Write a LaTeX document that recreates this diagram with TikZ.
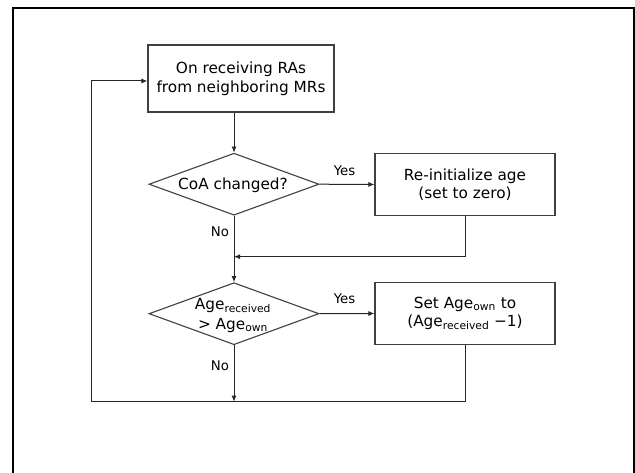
\documentclass[tikz,border=0pt]{standalone}
\usepackage{fontspec}
\setmainfont{DejaVu Sans}
\usetikzlibrary{shapes.geometric,arrows.meta}
\begin{document}
\begin{tikzpicture}[x=1pt,y=-1pt,
  boxnode/.style={draw=black!75,line width=1.1pt,rectangle,align=center,inner sep=0pt,
     font=\fontsize{15.3}{18.6}\selectfont},
  decnode/.style={draw=black!75,line width=1.1pt,diamond,inner sep=0pt,
     minimum width=170pt,minimum height=62pt},
  dectext/.style={align=center,inner sep=0pt,font=\fontsize{15.3}{19.5}\selectfont},
  lbl/.style={inner sep=0pt,font=\fontsize{13.3}{16}\selectfont},
  conn/.style={draw=black!85,line width=1pt},
  arr/.style={conn,-{Latex[length=6pt,width=5pt]}}]
\clip (0,0) rectangle (635,473);
\fill[white] (0,0) rectangle (635,473);
% outer frame
\draw[line width=2pt] (13,480) -- (13,8) -- (634,8) -- (634,480);

\node[boxnode,minimum width=186pt,minimum height=67pt] (top) at (241,78.5)
  {On receiving RAs\\from neighboring MRs};
\node[decnode] (d1) at (234,184.2) {};
\node[dectext] (d1t) at (233,185) {CoA changed?};
\node[boxnode,minimum width=180pt,minimum height=62pt] (b2) at (465,184.5)
  {Re-initialize age\\(set to zero)};
\node[decnode] (d2) at (234,313.7) {};
\node[dectext] (d2t) at (233,315.5) {Age\textsubscript{received}\\> Age\textsubscript{own}};
\node[boxnode,minimum width=180pt,minimum height=62pt] (b3) at (465,313.5)
  {Set Age\textsubscript{own} to\\(Age\textsubscript{received} −1)};

\node[lbl] (y1) at (344.5,170.5) {Yes};
\node[lbl] (n1) at (220,232) {No};
\node[lbl] (y2) at (344.5,299) {Yes};
\node[lbl] (n2) at (220,366) {No};

\coordinate (m1) at (234,256.7);
\coordinate (bc) at (234,401.7);
\coordinate (bl) at (91,401.7);
\coordinate (tl) at (91,81);

\draw[arr] (top.south -| d1.north) -- (d1.north);
\draw[arr] (d1.east) -- (b2.west);
\draw[arr] (d1.south) -- (d2.north);
\draw[arr] (b2.south) -- (b2.south |- m1) -- (m1);
\draw[arr] (d2.east) -- (b3.west);
\draw[arr] (d2.south) -- (bc);
\draw[arr] (b3.south) -- (b3.south |- bc) -- (bl) -- (tl) -- (tl -| top.west);
\end{tikzpicture}
\end{document}
